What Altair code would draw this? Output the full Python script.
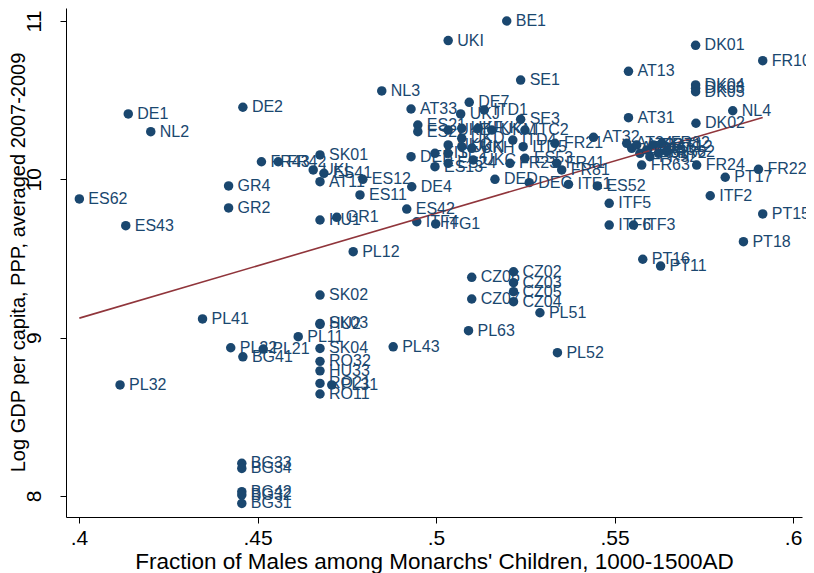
import altair as alt
import pandas as pd

regions = [
    "BE1", "UKI", "DK01", "FR10", "AT13", "SE1", "NL3", "DK04", "DK03", "DK05",
    "DE2", "DE1", "NL2", "NL4", "AT33", "DE7", "UKJ", "ITD1", "SE3", "ITC2",
    "ITD4", "AT32", "FR21", "ITD5", "ES53", "FR23", "FR41", "FR81", "DED", "DEC",
    "ITE1", "ES52", "ITF5", "ITF6", "ITF3", "ITF2", "PT17", "FR22", "FR24", "PT15",
    "PT18", "PT16", "PT11", "FR63", "AT31", "DK02",
    "AT34", "AT21", "AT22", "FR61", "FR53", "FR71", "FR82", "FR62", "FR52", "FR72", "AT12",
    "FR43", "FR42", "SK01", "UKL", "ES41", "AT11", "ES12", "ES11", "DE4", "DEB",
    "ES42", "ITF4", "ITG1", "HU1", "GR1", "GR4", "GR2", "ES62", "ES43", "PL12",
    "SK02", "PL41", "SK03", "HU2", "PL11", "PL22", "PL21", "BG41", "SK04", "PL43",
    "RO32", "HU33", "RO21", "PL31", "RO11", "PL32",
    "CZ06", "CZ07", "CZ02", "CZ03", "CZ05", "CZ04", "PL51", "PL63", "PL52",
    "BG33", "BG34", "BG42", "BG32", "BG31",
    "ES21", "ES22", "UKE", "UKF", "UKK", "UKM", "UKD", "UKG", "UKN", "UKH",
    "SE2", "FI1", "ES13", "ES24", "UKC",
]

male_fraction = [
    0.5198, 0.5034, 0.5727, 0.5915, 0.5539, 0.5237, 0.4848, 0.5727, 0.5727, 0.5727,
    0.4459, 0.4138, 0.4201, 0.5831, 0.4930, 0.5093, 0.5069, 0.5135, 0.5237, 0.5249,
    0.5215, 0.5441, 0.5333, 0.5244, 0.5249, 0.5207, 0.5338, 0.5352, 0.5165, 0.5261,
    0.5371, 0.5452, 0.5485, 0.5485, 0.5553, 0.5768, 0.5810, 0.5903, 0.5730, 0.5915,
    0.5861, 0.5579, 0.5629, 0.5576, 0.5539, 0.5728,
    0.5534, 0.5548, 0.5562, 0.5571, 0.5590, 0.5609, 0.5632, 0.5646, 0.5599, 0.5623, 0.5646,
    0.4511, 0.4558, 0.4675, 0.4656, 0.4686, 0.4675, 0.4795, 0.4787, 0.4932, 0.4930,
    0.4918, 0.4946, 0.4999, 0.4675, 0.4722, 0.4419, 0.4419, 0.4001, 0.4131, 0.4768,
    0.4675, 0.4346, 0.4675, 0.4675, 0.4614, 0.4425, 0.4516, 0.4459, 0.4675, 0.4880,
    0.4675, 0.4675, 0.4675, 0.4708, 0.4675, 0.4115,
    0.5100, 0.5100, 0.5217, 0.5217, 0.5217, 0.5217, 0.5291, 0.5091, 0.5340,
    0.4456, 0.4456, 0.4456, 0.4456, 0.4456,
    0.4949, 0.4949, 0.5034, 0.5072, 0.5118, 0.5156, 0.5072, 0.5034, 0.5072, 0.5100,
    0.5034, 0.4997, 0.4997, 0.5034, 0.5104,
]

log_gdp = [
    11.000, 10.876, 10.846, 10.749, 10.682, 10.627, 10.558, 10.596, 10.575, 10.553,
    10.455, 10.413, 10.301, 10.433, 10.444, 10.486, 10.413, 10.438, 10.379, 10.311,
    10.248, 10.265, 10.227, 10.206, 10.133, 10.101, 10.101, 10.059, 10.000, 9.979,
    9.968, 9.958, 9.848, 9.711, 9.711, 9.896, 10.013, 10.063, 10.090, 9.781,
    9.606, 9.495, 9.452, 10.090, 10.389, 10.354,
    10.227, 10.196, 10.217, 10.164, 10.185, 10.217, 10.227, 10.174, 10.143, 10.164, 10.206,
    10.111, 10.111, 10.154, 10.059, 10.038, 9.985, 10.000, 9.901, 9.953, 10.143,
    9.812, 9.732, 9.718, 9.743, 9.760, 9.958, 9.819, 9.876, 9.707, 9.543,
    9.269, 9.118, 9.090, 9.083, 9.006, 8.936, 8.928, 8.879, 8.932, 8.942,
    8.850, 8.790, 8.711, 8.701, 8.644, 8.701,
    9.381, 9.244, 9.416, 9.347, 9.290, 9.227, 9.157, 9.044, 8.905,
    8.206, 8.174, 8.027, 8.006, 7.953,
    10.343, 10.301, 10.311, 10.322, 10.322, 10.311, 10.259, 10.217, 10.206, 10.196,
    10.164, 10.164, 10.080, 10.101, 10.122,
]

x_ticks = [0.4, 0.45, 0.5, 0.55, 0.6]
y_ticks = [8, 9, 10, 11]

df = pd.DataFrame({"region": regions, "male_frac": male_fraction, "log_gdp": log_gdp})

NAVY = "#1a476f"
MAROON = "#90353b"
FONT = "Liberation Sans"

x_enc = alt.X(
    "male_frac:Q",
    scale=alt.Scale(domain=[0.39636, 0.6025], nice=False, zero=False),
    axis=alt.Axis(
        values=x_ticks,
        labelExpr="substring(format(datum.value, '.2~f'), 1)",
        title="Fraction of Males among Monarchs' Children, 1000-1500AD",
        titleY=51,
        titleBaseline="alphabetic",
        titleFontSize=22.5,
        labelPadding=4,
        labelBaseline="top",
    ),
)
y_enc = alt.Y(
    "log_gdp:Q",
    scale=alt.Scale(domain=[7.867, 11.082], nice=False, zero=False),
    axis=alt.Axis(
        values=y_ticks,
        format="d",
        labelAngle=270,
        labelAlign="center",
        labelBaseline="alphabetic",
        labelPadding=20,
        title="Log GDP per capita, PPP, averaged 2007-2009",
        titleAngle=270,
        titleX=-42,
        titleY=254,
        titleAlign="center",
        titleBaseline="alphabetic",
        titleFontSize=20,
    ),
)

base = alt.Chart(df)

points = base.mark_circle(size=90, color=NAVY, opacity=1).encode(x=x_enc, y=y_enc)
labels = base.mark_text(
    align="left", baseline="middle", dx=9, fontSize=16, font=FONT, color=NAVY
).encode(x="male_frac:Q", y="log_gdp:Q", text="region:N")
fit = (
    base.transform_regression("male_frac", "log_gdp")
    .mark_line(color=MAROON, strokeWidth=1.6)
    .encode(x="male_frac:Q", y="log_gdp:Q")
)

chart = (
    alt.layer(points, fit, labels)
    .properties(
        width=736,
        height=509,
        autosize=alt.AutoSizeParams(type="none"),
        padding={"left": 58, "top": 0, "right": 4, "bottom": 56},
        background="white",
    )
    .configure_view(stroke=None)
    .configure_axis(
        grid=False,
        domainColor="#000000",
        tickColor="#000000",
        tickSize=6,
        labelColor="#000000",
        titleColor="#000000",
        labelFont=FONT,
        titleFont=FONT,
        labelFontSize=21,
        titleFontWeight="normal",
    )
)

chart.save("out.html", embed_options={"renderer": "svg", "actions": False})
